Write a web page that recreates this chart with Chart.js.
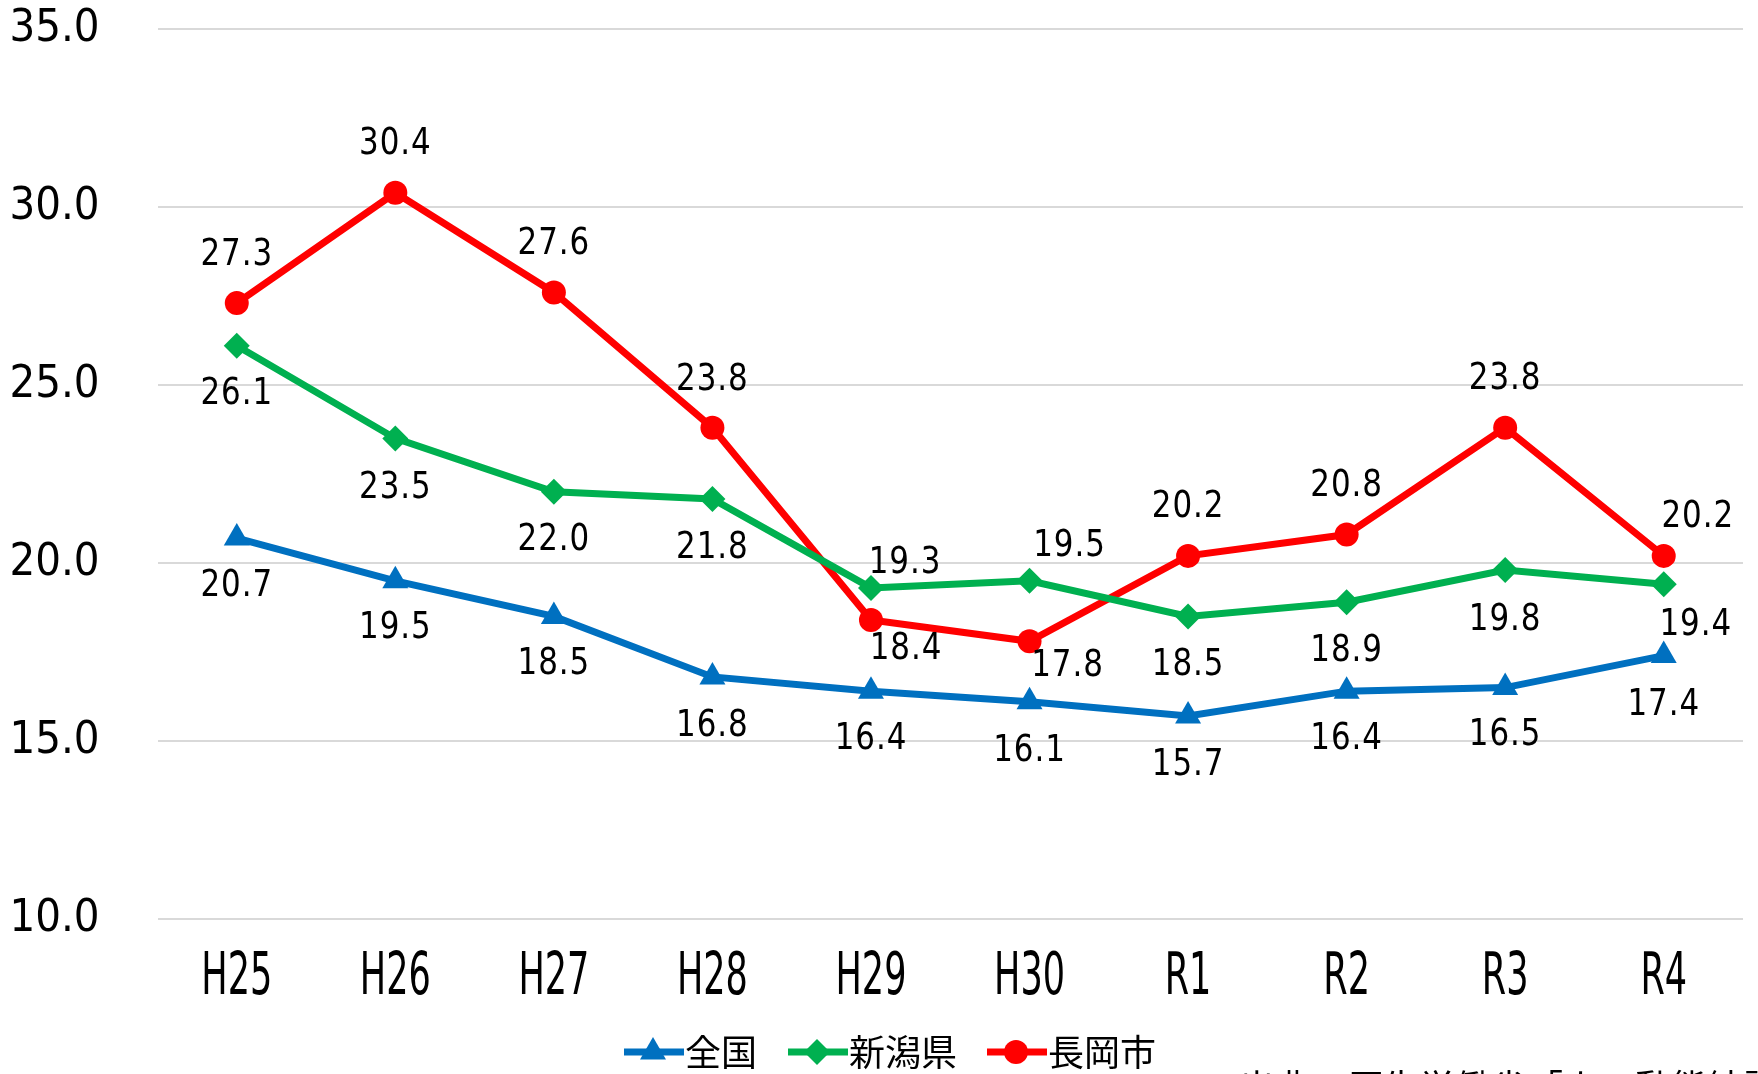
<!DOCTYPE html>
<html>
<head>
<meta charset="utf-8">
<script src="https://cdn.jsdelivr.net/npm/chart.js@4.4.1/dist/chart.umd.min.js"></script>
<style>
  html, body { margin: 0; padding: 0; background: #ffffff; }
  #wrap { width: 1758px; height: 1074px; }
</style>
</head>
<body>
<div id="wrap"><canvas id="c" width="1758" height="1074"></canvas></div>
<script>
// ---- data ----
const categories = ["H25", "H26", "H27", "H28", "H29", "H30", "R1", "R2", "R3", "R4"];
const zenkoku   = [20.7, 19.5, 18.5, 16.8, 16.4, 16.1, 15.7, 16.4, 16.5, 17.4];
const niigata   = [26.1, 23.5, 22.0, 21.8, 19.3, 19.5, 18.5, 18.9, 19.8, 19.4];
const nagaoka   = [27.3, 30.4, 27.6, 23.8, 18.4, 17.8, 20.2, 20.8, 23.8, 20.2];
const seriesNames = ["全国", "新潟県", "長岡市"];
const yTicks = [10, 15, 20, 25, 30, 35];
const sourceText = "出典：厚生労働省「人口動態統計」";

// ---- label placement (style, not data) ----
const B = [0, 48], A = [0, -48];
const labelOffsets = [
  [B, B, B, [0, 49], B, [0, 50], [0, 49], B, B, [0, 50]],
  [[0, 49], [0, 50], [0, 49], [0, 49], [34, -25], [40, -34], [0, 49], [0, 49], [0, 50], [32, 41]],
  [A, A, A, [0, -47], [35, 29], [38, 25], A, A, A, [34, -38]]
];

const NUM_FONT = '"DejaVu Sans Condensed", "DejaVu Sans", sans-serif';
const CJK_FONT = '"Noto Sans CJK JP", "Noto Sans", sans-serif';
const colors = ["#0070C0", "#00B050", "#FF0000"];
const pointStyles = ["triangle", "rectRot", "circle"];
const pointRadii = [15, 13, 12];

function drawSquished(ctx, text, x, y, sx) {
  ctx.save();
  ctx.translate(x, y);
  ctx.scale(sx, 1);
  ctx.fillText(text, 0, 0);
  ctx.restore();
}

const dataLabelPlugin = {
  id: "dataLabels",
  afterDatasetsDraw(chart) {
    const ctx = chart.ctx;
    ctx.save();
    ctx.font = '37px ' + NUM_FONT;
    ctx.fillStyle = "#000000";
    ctx.textAlign = "center";
    ctx.textBaseline = "middle";
    try { ctx.letterSpacing = "1px"; } catch (e) {}
    chart.data.datasets.forEach((ds, di) => {
      const meta = chart.getDatasetMeta(di);
      meta.data.forEach((pt, i) => {
        const off = labelOffsets[di][i];
        drawSquished(ctx, ds.data[i].toFixed(1), pt.x + off[0], pt.y + off[1], 0.93);
      });
    });
    ctx.restore();
  }
};

const xLabelPlugin = {
  id: "xLabels",
  afterDraw(chart) {
    const ctx = chart.ctx;
    const xs = chart.scales.x;
    ctx.save();
    ctx.font = '59px ' + NUM_FONT;
    ctx.fillStyle = "#000000";
    ctx.textAlign = "center";
    ctx.textBaseline = "middle";
    xs.ticks.forEach((t, i) => {
      drawSquished(ctx, xs.getLabelForValue(t.value), xs.getPixelForTick(i), chart.chartArea.bottom + 60, 0.66);
    });
    ctx.restore();
  }
};

const legendPlugin = {
  id: "customLegend",
  afterDraw(chart) {
    const ctx = chart.ctx;
    const y = 1052;
    const lineStarts = [624, 788, 987];
    chart.data.datasets.forEach((ds, di) => {
      const x0 = lineStarts[di];
      ctx.save();
      ctx.strokeStyle = ds.borderColor;
      ctx.lineWidth = 7;
      ctx.beginPath();
      ctx.moveTo(x0, y);
      ctx.lineTo(x0 + 60, y);
      ctx.stroke();
      ctx.fillStyle = ds.borderColor;
      Chart.helpers.drawPoint(ctx, { pointStyle: ds.pointStyle, radius: ds.pointRadius, borderWidth: 0 }, x0 + 29, y);
      ctx.fillStyle = "#000000";
      ctx.font = '36px ' + CJK_FONT;
      ctx.textBaseline = "middle";
      ctx.textAlign = "left";
      ctx.fillText(ds.label, x0 + 61, y);
      ctx.restore();
    });
    ctx.save();
    ctx.fillStyle = "#000000";
    ctx.font = '36px ' + CJK_FONT;
    ctx.textBaseline = "top";
    ctx.textAlign = "left";
    ctx.fillText(sourceText, 1239, 1069);
    ctx.restore();
  }
};

const seriesData = [zenkoku, niigata, nagaoka];
const datasets = seriesData.map((d, i) => ({
  label: seriesNames[i],
  data: d,
  borderColor: colors[i],
  backgroundColor: colors[i],
  borderWidth: 7,
  pointStyle: pointStyles[i],
  pointRadius: pointRadii[i],
  pointHoverRadius: pointRadii[i],
  pointBorderWidth: 0,
  pointBackgroundColor: colors[i],
  tension: 0,
  fill: false
}));

new Chart(document.getElementById("c"), {
  type: "line",
  data: { labels: categories, datasets: datasets },
  options: {
    responsive: false,
    animation: false,
    layout: { padding: { top: 29, right: 11, left: 0, bottom: 0 } },
    plugins: { legend: { display: false }, tooltip: { enabled: false } },
    scales: {
      x: {
        offset: true,
        grid: { display: false, drawTicks: false },
        border: { display: false },
        ticks: { display: false, autoSkip: false, maxRotation: 0 },
        afterFit(scale) { scale.height = 155; scale.paddingLeft = 0; scale.paddingRight = 0; }
      },
      y: {
        min: yTicks[0],
        max: yTicks[yTicks.length - 1],
        afterBuildTicks(scale) { scale.ticks = yTicks.map(v => ({ value: v })); },
        grid: { color: "#d9d9d9", lineWidth: 2, drawTicks: false },
        border: { display: false },
        ticks: {
          color: "#000000",
          font: { family: NUM_FONT, size: 45 },
          padding: 58,
          callback: v => Number(v).toFixed(1)
        },
        afterFit(scale) { scale.width = 157.5; scale.paddingTop = 0; scale.paddingBottom = 0; }
      }
    }
  },
  plugins: [dataLabelPlugin, xLabelPlugin, legendPlugin]
});
</script>
</body>
</html>
